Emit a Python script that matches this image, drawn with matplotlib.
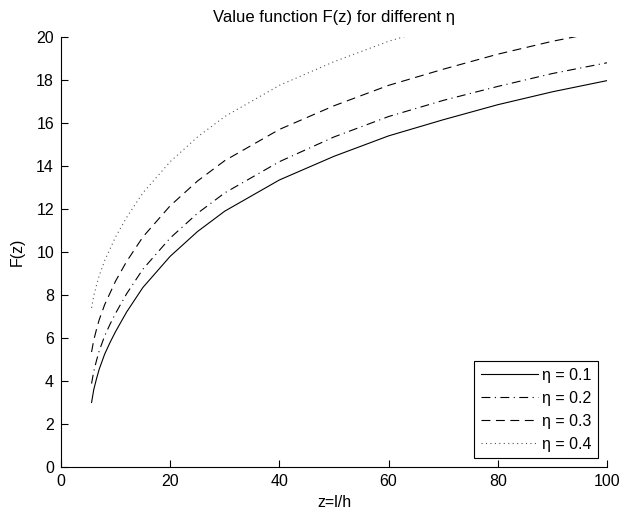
import numpy as np
import matplotlib
matplotlib.use('Agg')
import matplotlib.pyplot as plt

plt.rcParams['font.family'] = ['Liberation Sans', 'DejaVu Sans']

z = [5.6, 6, 6.5, 7, 8, 9, 10, 12, 15, 20, 25, 30, 40, 50, 60, 70, 80, 90, 100]
f_01 = [3.0, 3.6, 4.1, 4.55, 5.25, 5.8, 6.3, 7.2, 8.35, 9.8, 10.95, 11.9, 13.35, 14.45, 15.4, 16.15, 16.85, 17.45, 17.97]
f_02 = [3.88, 4.45, 4.95, 5.4, 6.1, 6.65, 7.15, 8.05, 9.2, 10.65, 11.8, 12.75, 14.2, 15.35, 16.3, 17.05, 17.7, 18.3, 18.8]
f_03 = [5.35, 5.9, 6.4, 6.85, 7.55, 8.1, 8.65, 9.55, 10.7, 12.15, 13.3, 14.25, 15.7, 16.8, 17.75, 18.5, 19.2, 19.8, 20.3]
f_04 = [7.4, 7.95, 8.45, 8.9, 9.6, 10.15, 10.7, 11.6, 12.75, 14.2, 15.35, 16.3, 17.75, 18.85, 19.8, 20.55]
labels = ['\u03b7 = 0.1', '\u03b7 = 0.2', '\u03b7 = 0.3', '\u03b7 = 0.4']

fig = plt.figure(figsize=(6.23, 5.15), dpi=100)
ax = fig.add_axes([0.0979, 0.0932, 0.8764, 0.835])

ax.plot(z, f_01, color='black', lw=0.8, ls='-', label=labels[0])
ax.plot(z, f_02, color='black', lw=0.8, ls=(0, (8, 4, 1, 4)), label=labels[1])
ax.plot(z, f_03, color='black', lw=0.8, ls=(0, (8, 5)), label=labels[2])
ax.plot(z[:len(f_04)], f_04, color='#555555', lw=0.8, ls=(0, (1, 3)), label=labels[3])

ax.set_xlim(0, 100)
ax.set_ylim(0, 20)
ax.set_xticks([0, 20, 40, 60, 80, 100])
ax.set_yticks(range(0, 21, 2))
ax.spines['top'].set_visible(False)
ax.spines['right'].set_visible(False)
ax.tick_params(direction='in', length=5, width=0.8, labelsize=11.5, pad=5)
for s in ['left', 'bottom']:
    ax.spines[s].set_linewidth(0.8)

ax.set_title('Value function F(z) for different \u03b7', fontsize=12, pad=11)
ax.set_xlabel('z=l/h', fontsize=11.5, labelpad=4)
ax.set_ylabel('F(z)', fontsize=11.5, labelpad=8)

leg = ax.legend(loc='lower right', fancybox=False, framealpha=1, edgecolor='black',
                fontsize=11.5, handlelength=3.6, handletextpad=0.25, borderpad=0.4,
                labelspacing=0.5, borderaxespad=0.55)
leg.get_frame().set_linewidth(0.8)

fig.savefig('out.png', dpi=100)
